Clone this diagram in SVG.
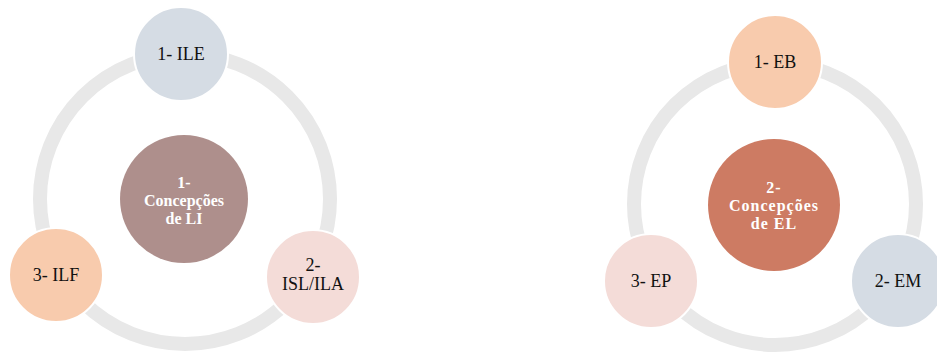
<svg xmlns="http://www.w3.org/2000/svg" width="937" height="356" viewBox="0 0 937 356">
<style>
.ring{fill:none;stroke:#E8E8E8;stroke-width:14}
.node{stroke:#FFFFFF;stroke-width:2}
.lbl{font-family:"Liberation Serif","Times New Roman",serif;font-size:18px;fill:#111111;text-anchor:middle}
.ctr{font-family:"Liberation Serif","Times New Roman",serif;font-size:16px;font-weight:bold;fill:#FFFFFF;text-anchor:middle}
</style>
<rect width="937" height="356" fill="#FFFFFF"/>
<g id="connectors">
<circle class="ring" cx="185" cy="199" r="145"/>
<circle class="ring" cx="775" cy="204" r="141"/>
</g>
<g id="center-li">
<circle cx="184" cy="199" r="64" fill="#AE8F8C"/>
<text class="ctr" x="184" y="188">1-</text>
<text class="ctr" x="184" y="206">Concepções</text>
<text class="ctr" x="184" y="224">de LI</text>
</g>
<g id="ile">
<circle class="node" cx="181" cy="54" r="47" fill="#D5DCE4"/>
<text class="lbl" x="181" y="60">1- ILE</text>
</g>
<g id="isl-ila">
<circle class="node" cx="313" cy="277" r="47" fill="#F4DCD8"/>
<text class="lbl" x="313" y="271">2-</text>
<text class="lbl" x="313" y="290">ISL/ILA</text>
</g>
<g id="ilf">
<circle class="node" cx="56" cy="275" r="47" fill="#F8CBAD"/>
<text class="lbl" x="56" y="281">3- ILF</text>
</g>
<g id="center-el">
<circle cx="774" cy="205" r="66" fill="#CD7B63"/>
<text class="ctr" x="774" y="193" letter-spacing="1">2-</text>
<text class="ctr" x="774" y="211" letter-spacing="1">Concepções</text>
<text class="ctr" x="774" y="229" letter-spacing="1">de EL</text>
</g>
<g id="eb">
<circle class="node" cx="775" cy="62" r="47" fill="#F8CBAD"/>
<text class="lbl" x="775" y="68">1- EB</text>
</g>
<g id="em">
<circle class="node" cx="898" cy="281" r="47" fill="#D5DCE4"/>
<text class="lbl" x="898" y="287">2- EM</text>
</g>
<g id="ep">
<circle class="node" cx="651" cy="281" r="47" fill="#F4DCD8"/>
<text class="lbl" x="651" y="287">3- EP</text>
</g>
</svg>
